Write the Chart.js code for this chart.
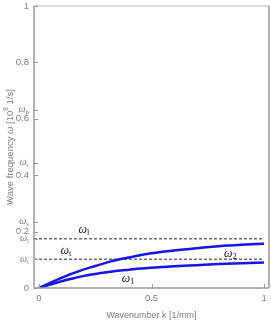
<!DOCTYPE html>
<html><head><meta charset="utf-8">
<script src="https://cdn.jsdelivr.net/npm/chart.js@4"></script>
<style>html,body{margin:0;padding:0;background:#fff}#wrap{width:271px;height:321px}</style>
</head><body><div id="wrap"><canvas id="c" width="271" height="321"></canvas></div>
<script>
// ---- data ----
const kValues = [0, 0.05, 0.1, 0.15, 0.2, 0.25, 0.3, 0.35, 0.4, 0.45, 0.5, 0.6, 0.7, 0.8, 0.9, 1.0];
const omega2 = [0, 0.018, 0.036, 0.052, 0.066, 0.078, 0.090, 0.100, 0.108, 0.116, 0.123, 0.133, 0.141, 0.148, 0.153, 0.157];
const omega1 = [0, 0.012, 0.024, 0.034, 0.043, 0.050, 0.056, 0.061, 0.065, 0.069, 0.072, 0.077, 0.081, 0.085, 0.088, 0.090];
const omegaT = 0.102;
const omegaL = 0.175;
const dashedK = [-0.022, 1.0];
const xTickValues = [0, 0.5, 1];
const xTickLabels = ['0', '0.5', '1'];
const yTickValues = [0, 0.2, 0.4, 0.6, 0.8, 1];
const yTickLabels = ['0', '0.2', '0.4', '0.6', '0.8', '1'];
const omegaTickValues = [0.102, 0.175, 0.235, 0.445, 0.632];
const omegaTickNames = ['t', 'l', 's', 'r', 'p'];
const curveLabelNames = ['l', 't', '2', '1'];
const curveLabelK = [0.20, 0.12, 0.85, 0.396];
const curveLabelW = [0.206, 0.131, 0.121, 0.032];
const xTitle = 'Wavenumber k [1/mm]';

const GRAY = '#808080';
const SANS = '"Liberation Sans", Arial, sans-serif';
const SERIF = '"Liberation Serif", "Times New Roman", serif';

function pts(xs, ys) { return xs.map((x, i) => ({x: x, y: ys[i]})); }

const framePlugin = {
  id: 'frame',
  afterDraw(chart) {
    const ctx = chart.ctx, a = chart.chartArea;
    const xs = chart.scales.x, ys = chart.scales.y;
    ctx.save();
    // frame
    ctx.lineWidth = 1.5;
    ctx.strokeStyle = '#cfcfcf';
    ctx.beginPath(); ctx.moveTo(a.left, a.top); ctx.lineTo(a.right, a.top); ctx.stroke();
    ctx.strokeStyle = '#9a9a9a';
    ctx.beginPath(); ctx.moveTo(a.right, a.top); ctx.lineTo(a.right, a.bottom); ctx.stroke();
    ctx.beginPath(); ctx.moveTo(a.left, a.top); ctx.lineTo(a.left, a.bottom); ctx.lineTo(a.right, a.bottom); ctx.stroke();
    // ticks (inward)
    ctx.lineWidth = 1;
    ctx.strokeStyle = '#9a9a9a';
    yTickValues.concat(omegaTickValues).forEach(v => {
      const y = Math.round(ys.getPixelForValue(v)) + 0.5;
      ctx.beginPath(); ctx.moveTo(a.left, y); ctx.lineTo(a.left + 4, y); ctx.stroke();
    });
    xTickValues.forEach(v => {
      const x = Math.round(xs.getPixelForValue(v)) + 0.5;
      ctx.beginPath(); ctx.moveTo(x, a.bottom); ctx.lineTo(x, a.bottom - 4); ctx.stroke();
    });
    // omega tick labels
    ctx.fillStyle = GRAY;
    ctx.textBaseline = 'middle';
    omegaTickValues.forEach((v, i) => {
      const y = ys.getPixelForValue(v);
      ctx.font = '7px ' + SERIF;
      const sw = ctx.measureText(omegaTickNames[i]).width;
      const right = 29;
      ctx.textAlign = 'left';
      ctx.fillText(omegaTickNames[i], right - sw, y + 2.5);
      ctx.font = 'italic 10px ' + SERIF;
      const ow = ctx.measureText('ω').width;
      ctx.fillText('ω', right - sw - ow, y);
    });
    // curve labels
    ctx.fillStyle = '#222';
    curveLabelNames.forEach((n, i) => {
      const x = xs.getPixelForValue(curveLabelK[i]);
      const y = ys.getPixelForValue(curveLabelW[i]);
      ctx.font = 'italic 12px ' + SERIF;
      const ow = ctx.measureText('ω').width;
      ctx.font = '8.5px ' + SERIF;
      const sw = ctx.measureText(n).width;
      const x0 = x - (ow + sw) / 2;
      ctx.textAlign = 'left';
      ctx.font = 'italic 12px ' + SERIF;
      ctx.fillText('ω', x0, y);
      ctx.font = '8.5px ' + SERIF;
      ctx.fillText(n, x0 + ow, y + 3);
    });
    // y title
    const parts = [
      {t: 'Wave frequency ', f: '9.5px ' + SANS, dy: 0},
      {t: 'ω', f: 'italic 10.5px ' + SERIF, dy: 0},
      {t: ' [10', f: '9.5px ' + SANS, dy: 0},
      {t: '8', f: '6.5px ' + SANS, dy: -3.5},
      {t: ' 1/s]', f: '9.5px ' + SANS, dy: 0}
    ];
    let total = 0;
    parts.forEach(p => { ctx.font = p.f; p.w = ctx.measureText(p.t).width; total += p.w; });
    ctx.translate(10, (a.top + a.bottom) / 2);
    ctx.rotate(-Math.PI / 2);
    ctx.fillStyle = GRAY;
    ctx.textAlign = 'left';
    ctx.textBaseline = 'middle';
    let cx = -total / 2;
    parts.forEach(p => { ctx.font = p.f; ctx.fillText(p.t, cx, p.dy); cx += p.w; });
    ctx.restore();
  }
};

new Chart(document.getElementById('c'), {
  type: 'line',
  data: {
    datasets: [
      {data: pts(kValues, omega2), borderColor: '#1414f0', borderWidth: 2.5, pointRadius: 0, cubicInterpolationMode: 'monotone'},
      {data: pts(kValues, omega1), borderColor: '#1414f0', borderWidth: 2.5, pointRadius: 0, cubicInterpolationMode: 'monotone'},
      {data: pts(dashedK, [omegaL, omegaL]), borderColor: '#707070', borderWidth: 1.5, borderDash: [3, 2], pointRadius: 0},
      {data: pts(dashedK, [omegaT, omegaT]), borderColor: '#707070', borderWidth: 1.5, borderDash: [3, 2], pointRadius: 0}
    ]
  },
  options: {
    responsive: false,
    devicePixelRatio: 1,
    animation: false,
    layout: {padding: {top: 0, right: 2, left: 0, bottom: 0}},
    plugins: {legend: {display: false}, tooltip: {enabled: false}},
    scales: {
      x: {
        type: 'linear', min: -0.022, max: 1.022,
        afterBuildTicks: s => { s.ticks = xTickValues.map(v => ({value: v})); },
        afterFit: s => { s.height = 33; s.paddingLeft = 0; s.paddingRight = 0; },
        grid: {display: false, drawTicks: false},
        border: {display: false},
        ticks: {autoSkip: false, maxRotation: 0, padding: 5, color: GRAY, font: {size: 9.5, family: SANS},
          callback: v => { const i = xTickValues.indexOf(v); return i >= 0 ? xTickLabels[i] : ''; }},
        title: {display: true, text: xTitle, color: GRAY, font: {size: 9, family: SANS}, padding: {top: 5, bottom: 0}}
      },
      y: {
        type: 'linear', min: 0, max: 1,
        afterBuildTicks: s => { s.ticks = yTickValues.concat(omegaTickValues).map(v => ({value: v})); },
        afterFit: s => { s.width = 34; s.paddingTop = 6; s.paddingBottom = 0; },
        grid: {display: false, drawTicks: false},
        border: {display: false},
        ticks: {autoSkip: false, padding: 5, color: GRAY, font: {size: 9.5, family: SANS},
          callback: v => { const i = yTickValues.indexOf(v); return i >= 0 ? yTickLabels[i] : ''; }}
      }
    }
  },
  plugins: [framePlugin]
});
</script>
</body></html>
